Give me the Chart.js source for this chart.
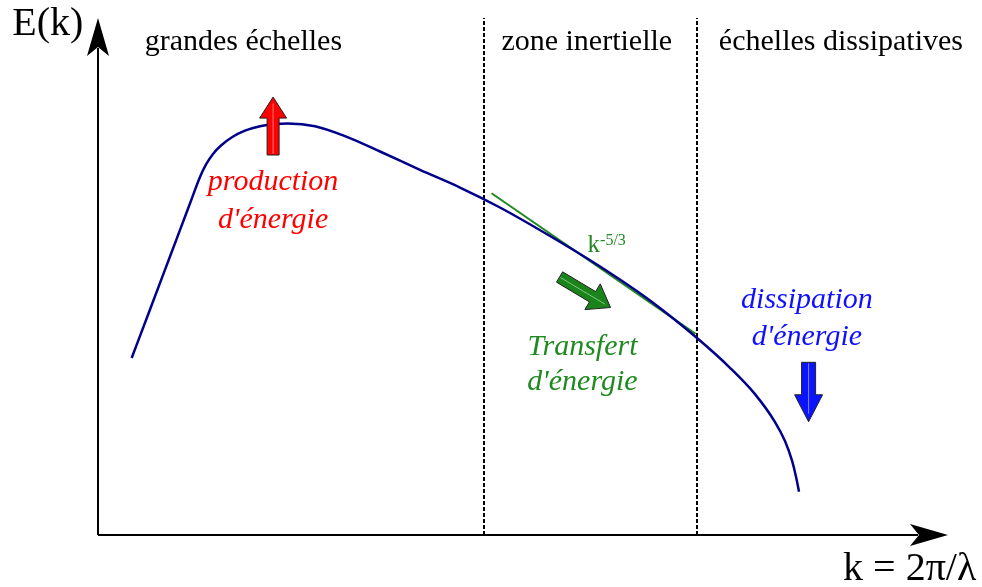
<!DOCTYPE html>
<html><head><meta charset="utf-8">
<script src="https://cdn.jsdelivr.net/npm/chart.js@4/dist/chart.umd.min.js"></script>
<style>html,body{margin:0;padding:0;background:#fff;}#wrap{width:982px;height:587px;position:relative;}</style>
</head><body><div id="wrap"><canvas id="c"></canvas></div>
<script>
// Energy spectrum E(k) (arbitrary units, schematic)
const spectrumK = [3.96, 6.12, 8.47, 10.82, 12.00, 12.71, 13.53, 14.47, 15.76, 17.29, 19.06, 20.82, 22.35, 25.53, 29.06, 33.18, 37.88, 42.59, 47.29, 53.18, 59.06, 64.94, 70.47, 74.35, 77.29, 79.65, 80.82, 81.65, 82.12, 82.47];
const spectrumE = [34.24, 43.62, 53.87, 64.12, 69.25, 71.68, 73.71, 75.34, 76.94, 78.20, 79.07, 79.50, 79.59, 79.07, 77.16, 74.18, 70.62, 67.21, 63.35, 57.83, 51.93, 45.36, 38.09, 32.34, 27.25, 21.84, 18.16, 14.37, 11.28, 8.38];
// k^-5/3 reference slope
const slopeK = [46.3, 70.3];
const slopeE = [66.1, 38.9];
// zone boundaries (k)
const zoneBounds = [45.41, 70.47];
const zoneLabels = ['grandes échelles', 'zone inertielle', 'échelles dissipatives'];
const zoneLabelK = [17.1, 57.5, 87.4];

const SERIF = '"Liberation Serif", "DejaVu Serif", serif';

const datasets = [
  { data: spectrumK.map((k, i) => ({ x: k, y: spectrumE[i] })), borderColor: '#00008b', borderWidth: 2.5, cubicInterpolationMode: 'monotone', pointRadius: 0, showLine: true },
  { data: slopeK.map((k, i) => ({ x: k, y: slopeE[i] })), borderColor: '#1f8a1f', borderWidth: 2, pointRadius: 0, showLine: true }
];
zoneBounds.forEach(b => datasets.push({ data: [{ x: b, y: 0 }, { x: b, y: 100 }], borderColor: '#000', borderWidth: 2, borderDash: [4, 2], pointRadius: 0, showLine: true }));

function arrow(ctx, x1, y1, x2, y2, sw, hw, hl, fill, hi) {
  const dx = x2 - x1, dy = y2 - y1, L = Math.hypot(dx, dy);
  const ux = dx / L, uy = dy / L, nx = -uy, ny = ux;
  const bx = x2 - ux * hl, by = y2 - uy * hl;
  ctx.save();
  ctx.beginPath();
  ctx.moveTo(x1 + nx * sw / 2, y1 + ny * sw / 2);
  ctx.lineTo(bx + nx * sw / 2, by + ny * sw / 2);
  ctx.lineTo(bx + nx * hw / 2, by + ny * hw / 2);
  ctx.lineTo(x2, y2);
  ctx.lineTo(bx - nx * hw / 2, by - ny * hw / 2);
  ctx.lineTo(bx - nx * sw / 2, by - ny * sw / 2);
  ctx.lineTo(x1 - nx * sw / 2, y1 - ny * sw / 2);
  ctx.closePath();
  ctx.fillStyle = fill; ctx.fill();
  ctx.lineWidth = 1; ctx.strokeStyle = '#222'; ctx.stroke();
  ctx.beginPath();
  ctx.moveTo(x1 + ux * 1, y1 + uy * 1);
  ctx.lineTo(x2 - ux * hl * 0.3, y2 - uy * hl * 0.3);
  ctx.strokeStyle = hi; ctx.lineWidth = 1; ctx.stroke();
  ctx.restore();
}
function axisHead(ctx, tx, ty, ux, uy) {
  const nx = -uy, ny = ux, L = 38, W = 11, N = 29;
  ctx.beginPath();
  ctx.moveTo(tx, ty);
  ctx.lineTo(tx - ux * L + nx * W, ty - uy * L + ny * W);
  ctx.lineTo(tx - ux * N, ty - uy * N);
  ctx.lineTo(tx - ux * L - nx * W, ty - uy * L - ny * W);
  ctx.closePath();
  ctx.fillStyle = '#000'; ctx.fill();
}

const diagram = {
  id: 'diagram',
  beforeDatasetsDraw(chart) {
    const ctx = chart.ctx, xs = chart.scales.x, ys = chart.scales.y;
    const x0 = xs.getPixelForValue(0), y0 = ys.getPixelForValue(0);
    const xTop = ys.getPixelForValue(100), xEnd = xs.getPixelForValue(100);
    ctx.save();
    ctx.strokeStyle = '#000'; ctx.lineWidth = 2;
    ctx.beginPath(); ctx.moveTo(x0, y0); ctx.lineTo(x0, xTop + 30); ctx.stroke();
    ctx.beginPath(); ctx.moveTo(x0, y0); ctx.lineTo(xEnd - 30, y0); ctx.stroke();
    axisHead(ctx, x0, xTop, 0, -1);
    axisHead(ctx, xEnd, y0, 1, 0);
    ctx.restore();
  },
  afterDatasetsDraw(chart) {
    const ctx = chart.ctx, xs = chart.scales.x, ys = chart.scales.y;
    const px = v => xs.getPixelForValue(v), py = v => ys.getPixelForValue(v);
    // arrows
    arrow(ctx, px(20.6), py(73.5), px(20.6), py(84.7), 12, 27, 21, '#ff0000', '#ff7a7a');
    arrow(ctx, px(54.3), py(49.9), px(60.3), py(44.0), 12, 30, 21, '#1a841a', '#7fc47f');
    arrow(ctx, px(83.6), py(33.4), px(83.6), py(21.9), 14, 28, 27, '#0a14ff', '#7f88ff');
    ctx.save();
    ctx.textBaseline = 'alphabetic';
    ctx.textAlign = 'center';
    ctx.fillStyle = '#000';
    ctx.font = '30px ' + SERIF;
    zoneLabels.forEach((t, i) => ctx.fillText(t, px(zoneLabelK[i]), py(93.8)));
    ctx.font = '40px ' + SERIF;
    ctx.fillText('E(k)', px(-5.9), py(96.7));
    ctx.fillText('k = 2π/λ', px(95.5), py(-8.7));
    ctx.font = 'italic 30px ' + SERIF;
    ctx.fillStyle = '#ff0000';
    ctx.fillText('production', px(20.6), py(66.7));
    ctx.fillText("d'énergie", px(20.6), py(59.4));
    ctx.fillStyle = '#1f8a1f';
    ctx.fillText('Transfert', px(57.0), py(34.8));
    ctx.fillText("d'énergie", px(57.0), py(28.0));
    ctx.fillStyle = '#1010ff';
    ctx.fillText('dissipation', px(83.4), py(43.9));
    ctx.fillText("d'énergie", px(83.4), py(36.8));
    // k^-5/3
    ctx.fillStyle = '#1f8a1f';
    ctx.textAlign = 'left';
    ctx.font = '25px ' + SERIF;
    const kx = px(57.6), ky = py(54.7);
    ctx.fillText('k', kx, ky);
    const kw = ctx.measureText('k').width;
    ctx.font = '16px ' + SERIF;
    ctx.fillText('-5/3', kx + kw, ky - 7);
    ctx.restore();
  }
};

new Chart(document.getElementById('c'), {
  type: 'scatter',
  data: { datasets },
  options: {
    responsive: true, maintainAspectRatio: false, animation: false,
    layout: { padding: { left: 98, right: 34, top: 18, bottom: 52 } },
    plugins: { legend: { display: false }, tooltip: { enabled: false } },
    scales: {
      x: { type: 'linear', min: 0, max: 100, display: false },
      y: { type: 'linear', min: 0, max: 100, display: false }
    }
  },
  plugins: [diagram]
});
</script></body></html>
